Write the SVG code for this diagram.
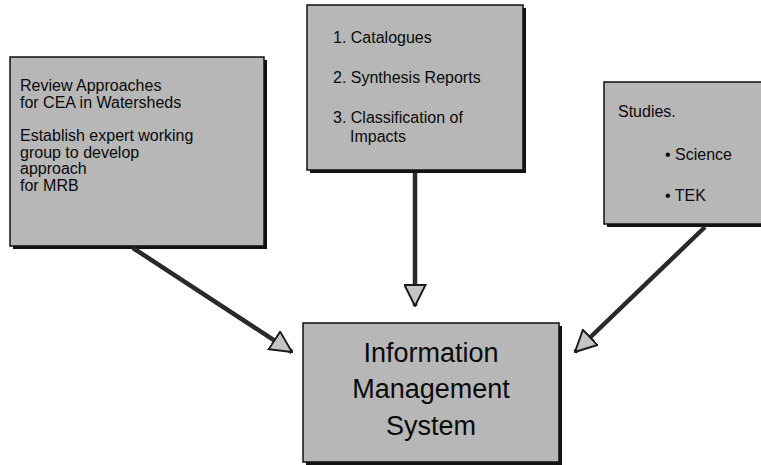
<svg xmlns="http://www.w3.org/2000/svg" width="761" height="465" viewBox="0 0 761 465">
  <style>
    .box { fill: #b7b7b7; stroke: #111; stroke-width: 1.5; }
    .shadow { fill: #141414; }
    .txt { font-family: "Liberation Sans", Arial, sans-serif; font-size: 16px; fill: #0a0a0a; }
    .big { font-family: "Liberation Sans", Arial, sans-serif; font-size: 27px; fill: #0a0a0a; text-anchor: middle; }
    .conn { fill: none; stroke: #2a2a2a; stroke-width: 4.5; }
  </style>
  <defs>
    <marker id="head" viewBox="0 0 24 24" refX="23" refY="12" markerWidth="23" markerHeight="23" markerUnits="userSpaceOnUse" orient="auto">
      <path d="M1,1 L23,12 L1,23 Z" fill="#c4c4c4" stroke="#1a1a1a" stroke-width="2" stroke-linejoin="miter"/>
    </marker>
  </defs>
  <rect width="761" height="465" fill="#ffffff"/>

  <!-- left node: CEA review -->
  <g id="review">
    <rect class="shadow" x="13" y="60" width="254" height="189"/>
    <rect class="box" x="10" y="57" width="254" height="189"/>
    <text class="txt" x="20" y="91">Review Approaches</text>
    <text class="txt" x="20" y="108">for CEA in Watersheds</text>
    <text class="txt" x="20" y="141">Establish expert working</text>
    <text class="txt" x="20" y="158">group to develop</text>
    <text class="txt" x="20" y="174">approach</text>
    <text class="txt" x="20" y="191">for MRB</text>
  </g>

  <!-- middle node: products -->
  <g id="products">
    <rect class="shadow" x="310" y="8" width="216" height="165"/>
    <rect class="box" x="307" y="5" width="216" height="165"/>
    <text class="txt" x="333" y="43">1. Catalogues</text>
    <text class="txt" x="333" y="83">2. Synthesis Reports</text>
    <text class="txt" x="333" y="123">3. Classification of</text>
    <text class="txt" x="350" y="142">Impacts</text>
  </g>

  <!-- right node: studies -->
  <g id="studies">
    <rect class="shadow" x="607" y="85" width="160" height="142"/>
    <rect class="box" x="604" y="82" width="160" height="142"/>
    <text class="txt" x="618" y="117">Studies.</text>
    <text class="txt" x="665" y="160">• Science</text>
    <text class="txt" x="665" y="201">• TEK</text>
  </g>

  <!-- bottom node: information system -->
  <g id="ims">
    <rect class="shadow" x="306" y="326" width="256" height="139"/>
    <rect class="box" x="303" y="323" width="256" height="139"/>
    <text class="big" x="431" y="362">Information</text>
    <text class="big" x="431" y="398">Management</text>
    <text class="big" x="431" y="435">System</text>
  </g>

  <!-- connectors -->
  <g id="connectors">
    <path class="conn" d="M133,248 L292,352" marker-end="url(#head)"/>
    <path class="conn" d="M415,173 L415,306" marker-end="url(#head)"/>
    <path class="conn" d="M705,227 L575,352" marker-end="url(#head)"/>
  </g>
</svg>
